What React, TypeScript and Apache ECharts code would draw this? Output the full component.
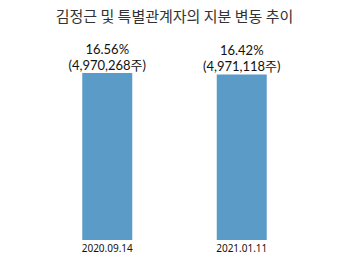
import React, { useEffect, useRef } from "react";
import * as echarts from "echarts";

const title = "김정근 및 특별관계자의 지분 변동 추이";
const categories = ["2020.09.14", "2021.01.11"];
const percents = [16.56, 16.42];
const shares = ["4,970,268", "4,971,118"];

export default function App() {
  const ref = useRef<HTMLDivElement>(null);
  useEffect(() => {
    if (!ref.current) return;
    const chart = echarts.init(ref.current, null, { renderer: "svg" });
    chart.setOption({
      animation: false,
      backgroundColor: "#ffffff",
      title: {
        text: title,
        left: "center",
        top: 3,
        textStyle: {
          fontFamily: "Noto Sans CJK KR",
          fontSize: 15,
          fontWeight: "normal",
          color: "#333333",
        },
      },
      grid: { left: 40, right: 40, top: 73, bottom: 20 },
      xAxis: {
        type: "category",
        data: categories,
        axisLine: { show: false },
        axisTick: { show: false },
        axisLabel: {
          color: "#111111",
          fontSize: 10,
          margin: 3,
          fontFamily: "Noto Sans",
        },
      },
      yAxis: {
        type: "value",
        min: 0,
        max: 16.56,
        show: false,
        splitLine: { show: false },
      },
      series: [
        {
          type: "bar",
          barWidth: 50,
          data: percents,
          itemStyle: { color: "#5b9bc8" },
          label: {
            show: true,
            position: "top",
            distance: 0,
            color: "#111111",
            fontSize: 13,
            lineHeight: 16,
            fontFamily: "Lato, 'Noto Sans CJK KR'",
            formatter: (p: any) =>
              `${percents[p.dataIndex].toFixed(2)}%\n(${shares[p.dataIndex]}주)`,
          },
        },
      ],
    });
    return () => chart.dispose();
  }, []);
  return (
    <div
      ref={ref}
      style={{ position: "absolute", left: 0, top: 0, width: 349, height: 260 }}
    />
  );
}
